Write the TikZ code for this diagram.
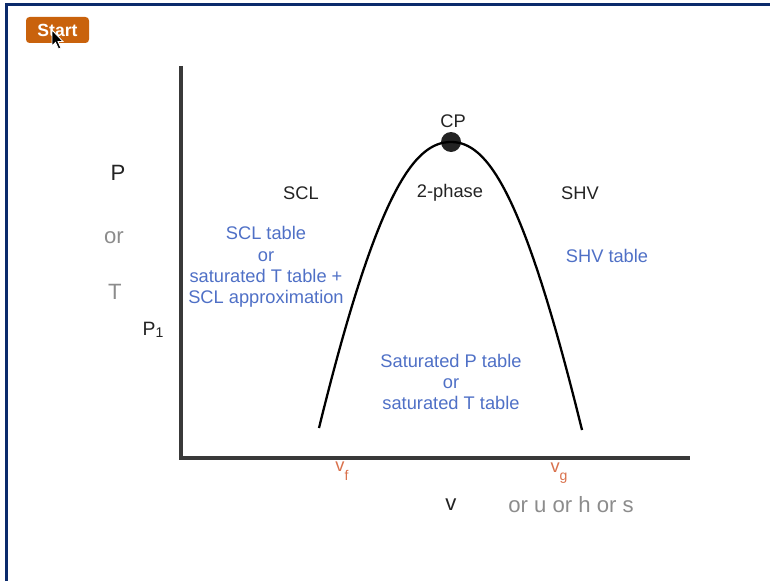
\documentclass[tikz,border=0pt]{standalone}
\usepackage{fontspec}
\setmainfont{Liberation Sans}
\usepackage{xcolor}
\usetikzlibrary{positioning,calc}

\definecolor{framenavy}{HTML}{0B2A6B}
\definecolor{btnorange}{HTML}{C9620C}
\definecolor{tableblue}{HTML}{4F70C6}
\definecolor{softgray}{HTML}{8C8C8C}
\definecolor{volorange}{HTML}{D9714C}
\definecolor{inkdark}{HTML}{232323}

\begin{document}
\begin{tikzpicture}[
    x=0.02cm, y=-0.02cm,
    label/.style={text=inkdark, font=\fontsize{10.4}{12}\selectfont},
    axislabel/.style={font=\fontsize{12.6}{14}\selectfont},
    tabletext/.style={text=tableblue, align=center, font=\fontsize{10.4}{12.2}\selectfont},
    voltext/.style={text=volorange, font=\fontsize{10.4}{12}\selectfont},
    axis/.style={line width=2.4pt, draw=inkdark!90},
    dome/.style={line width=1.3pt, draw=black}
]
\useasboundingbox (0,0) rectangle (770,581);

% Frame
\draw[framenavy, line width=2pt] (6.5,581) -- (6.5,4.5) -- (770,4.5);

% Start button
\node[fill=btnorange, rounded corners=2pt, minimum width=63*0.02cm, minimum height=26*0.02cm,
      text=white, font=\bfseries\fontsize{10}{12}\selectfont, inner sep=0pt] (start) at (57.5,30) {Start};
\draw[fill=black, draw=white, line width=0.5pt] (52,30) -- (52,46) -- (55.5,42.5) -- (58.5,49)
    -- (61,48) -- (58,41.5) -- (63,41.5) -- cycle;

% Axes
\coordinate (origin) at (181,458);
\coordinate (ytop) at (181,66);
\coordinate (xend) at (690,458);
\draw[axis] (ytop) -- (origin) -- (xend);

% Critical point and saturation dome
\node[circle, fill=inkdark, inner sep=0pt, minimum size=20*0.02cm] (cp) at (451,142) {};
\node[label] (cplabel) at (453,121) {CP};
\coordinate (ffoot) at (319,428);
\coordinate (gfoot) at (582,430);
\draw[dome] (ffoot) .. controls (378,188) and (415,142) .. (cp.center)
    .. controls (487,142) and (523,190) .. (gfoot);

% Region labels
\node[label] (scl) at (301,193) {SCL};
\node[label] (twophase) at (450,193) {2-phase};
\node[label] (shv) at (580,193) {SHV};

% Table hints
\node[tabletext] (scltable) at (266,267) {SCL table\\or\\saturated T table +\\SCL approximation};
\node[tabletext] (shvtable) at (607,256) {SHV table};
\node[tabletext] (sattable) at (451,382) {Saturated P table\\or\\saturated T table};

% Vertical axis labels
\node[axislabel, text=inkdark] (plabel) at (118,173) {P};
\node[axislabel, text=softgray] (orlabel) at (114,238) {or};
\node[axislabel, text=softgray] (tlabel) at (115,292) {T};
\node[label, font=\fontsize{11}{13}\selectfont] (p1) at (153,330) {P\raisebox{-0.25ex}{\footnotesize 1}};

% Horizontal axis labels
\node[voltext] (vf) at (342,471) {v\raisebox{-0.9ex}{\footnotesize f}};
\node[voltext] (vg) at (559,473) {v\raisebox{-0.9ex}{\footnotesize g}};
\node[axislabel, text=inkdark] (vlabel) at (451,505) {v};
\node[axislabel, text=softgray] (vother) at (571,505) {or u or h or s};

\end{tikzpicture}
\end{document}
